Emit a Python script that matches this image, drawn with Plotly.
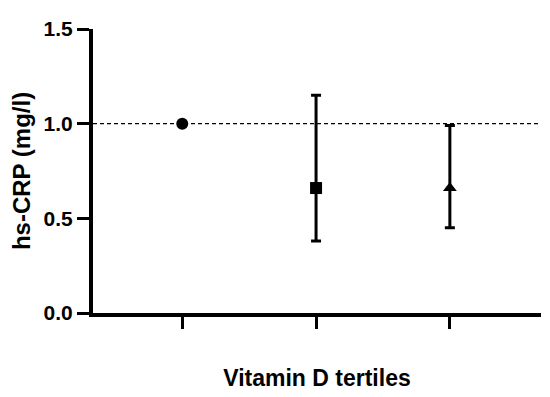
import plotly.graph_objects as go

categories = [1, 2, 3]
tertile_labels = ["T1", "T2", "T3"]
hs_crp = [1.0, 0.66, 0.66]
ci_upper = [1.0, 1.15, 0.99]
ci_lower = [1.0, 0.38, 0.45]
symbols = ["circle", "square", "triangle-up"]
y_ticks = [0.0, 0.5, 1.0, 1.5]
y_tick_text = ["0.0", "0.5", "1.0", "1.5"]
reference_value = 1.0

FONT = "Liberation Sans, Arial, sans-serif"

fig = go.Figure()

for i in range(len(categories)):
    has_err = ci_upper[i] != hs_crp[i] or ci_lower[i] != hs_crp[i]
    fig.add_trace(go.Scatter(
        x=[categories[i]], y=[hs_crp[i]],
        mode="markers",
        name=tertile_labels[i],
        marker=dict(symbol=symbols[i], size=12, color="black"),
        error_y=dict(
            type="data", symmetric=False,
            array=[ci_upper[i] - hs_crp[i]],
            arrayminus=[hs_crp[i] - ci_lower[i]],
            color="black", thickness=3, width=5,
            visible=has_err,
        ),
        showlegend=False,
    ))

fig.add_shape(type="line", xref="paper", yref="y", x0=0, x1=1,
              y0=reference_value, y1=reference_value,
              line=dict(color="black", width=1.2, dash="4px,3px"), layer="below")

# page body has an 8px default margin: compensate so the plot lands where the reference has it
fig.update_layout(
    width=542, height=389,
    margin=dict(l=81, r=9, t=21, b=84),
    paper_bgcolor="white", plot_bgcolor="white",
    font=dict(family=FONT, color="black"),
    xaxis=dict(
        range=[0.333, 3.681],
        tickvals=categories, ticktext=["", "", ""],
        ticks="outside", ticklen=12, tickwidth=3, tickcolor="black",
        showline=True, linewidth=4, linecolor="black",
        showgrid=False, zeroline=False,
        title=dict(text="<b>Vitamin D tertiles</b>", font=dict(size=23, family=FONT), standoff=40),
    ),
    yaxis=dict(
        range=[0, 1.5],
        tickvals=y_ticks, ticktext=[f"<b>{t}</b>" for t in y_tick_text],
        tickfont=dict(size=21, family=FONT),
        ticks="outside", ticklen=12, tickwidth=3, tickcolor="black",
        showline=True, linewidth=4, linecolor="black",
        showgrid=False, zeroline=False,
        title=dict(text="<b>hs-CRP (mg/l)</b>", font=dict(size=24, family=FONT), standoff=10),
    ),
)

fig.write_html("out.html")
